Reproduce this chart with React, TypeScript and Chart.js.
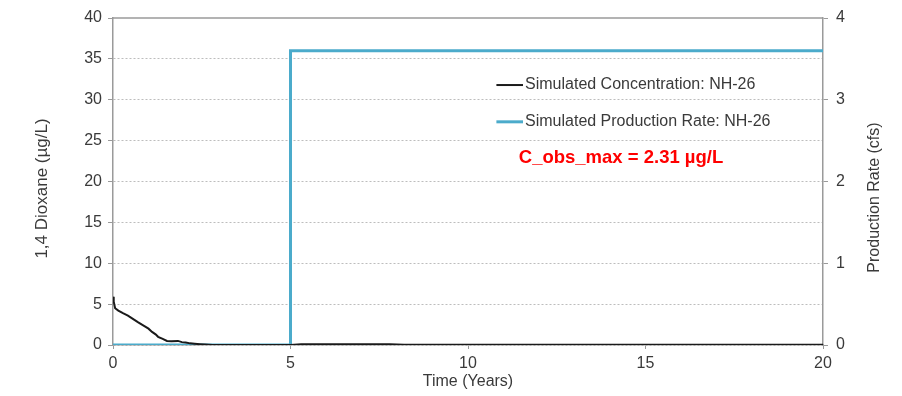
import React, { useEffect, useRef } from "react";
import { Chart, registerables } from "chart.js";

Chart.register(...registerables);

// Simulated 1,4-dioxane concentration (µg/L) over time (years)
const concTime = [0, 0.02, 0.06, 0.15, 0.28, 0.42, 0.56, 0.7, 0.85, 1.0, 1.1, 1.2, 1.27, 1.4, 1.52, 1.65, 1.83, 1.94, 2.05, 2.17, 2.3, 2.45, 2.6, 2.8, 5.0, 5.3, 6.5, 7.8, 8.2, 10, 20];
const concValue = [5.9, 5.3, 4.5, 4.2, 3.9, 3.6, 3.2, 2.8, 2.4, 2.0, 1.6, 1.3, 1.0, 0.75, 0.5, 0.45, 0.5, 0.35, 0.3, 0.2, 0.15, 0.1, 0.05, 0.0, 0.0, 0.08, 0.1, 0.1, 0.03, 0.02, 0.02];

// Simulated production rate (cfs) — step change at year 5
const rateTime = [0, 5, 5, 20];
const rateValue = [0, 0, 3.6, 3.6];

const xTicks = [0, 5, 10, 15, 20];
const concLabel = "Simulated Concentration: NH-26";
const rateLabel = "Simulated Production Rate: NH-26";
const noteText = "C_obs_max = 2.31 µg/L";
const leftTitle = "1,4 Dioxane (µg/L)";
const rightTitle = "Production Rate (cfs)";

const BLUE = "#4babcb";
const BLACK = "#1a1a1a";
const AXIS = "#9a9a9a";
const GRID = "#bdbdbd";
const TEXT = "#3a3a3a";
const FONT = "'Liberation Sans', Arial, sans-serif";

const framePlugin = {
  id: "frameAndLegend",
  beforeDatasetsDraw(chart: any) {
    const { ctx, chartArea } = chart;
    ctx.save();
    ctx.strokeStyle = AXIS;
    ctx.lineWidth = 1.5;
    ctx.beginPath();
    ctx.moveTo(chartArea.left, chartArea.top);
    ctx.lineTo(chartArea.right, chartArea.top);
    ctx.stroke();
    ctx.restore();
  },
  afterDraw(chart: any) {
    const { ctx, chartArea } = chart;
    const xs = chart.scales.x;
    const ys = chart.scales.y;
    const midY = (chartArea.top + chartArea.bottom) / 2;

    // vertical axis titles, both reading bottom to top
    ctx.save();
    ctx.fillStyle = TEXT;
    ctx.textAlign = "center";
    ctx.textBaseline = "middle";
    ctx.font = `17px ${FONT}`;
    ctx.translate(42, midY + 7);
    ctx.rotate(-Math.PI / 2);
    ctx.fillText(leftTitle, 0, 0);
    ctx.restore();

    ctx.save();
    ctx.fillStyle = TEXT;
    ctx.textAlign = "center";
    ctx.textBaseline = "middle";
    ctx.font = `16px ${FONT}`;
    ctx.translate(875, midY + 16);
    ctx.rotate(-Math.PI / 2);
    ctx.fillText(rightTitle, 0, 0);
    ctx.restore();

    // legend placed inside the plot area
    const lx0 = xs.getPixelForValue(10.8);
    const lx1 = xs.getPixelForValue(11.55);
    const row1 = ys.getPixelForValue(31.8);
    const row2 = ys.getPixelForValue(27.3);
    ctx.save();
    ctx.lineCap = "butt";
    ctx.strokeStyle = BLACK;
    ctx.lineWidth = 2;
    ctx.beginPath();
    ctx.moveTo(lx0, row1);
    ctx.lineTo(lx1, row1);
    ctx.stroke();
    ctx.strokeStyle = BLUE;
    ctx.lineWidth = 3;
    ctx.beginPath();
    ctx.moveTo(lx0, row2);
    ctx.lineTo(lx1, row2);
    ctx.stroke();
    ctx.fillStyle = TEXT;
    ctx.font = `16px ${FONT}`;
    ctx.textBaseline = "middle";
    ctx.textAlign = "left";
    ctx.fillText(concLabel, lx1 + 2, row1);
    ctx.fillText(rateLabel, lx1 + 2, row2);
    ctx.fillStyle = "#ff0000";
    ctx.font = `bold 18.5px ${FONT}`;
    ctx.fillText(noteText, xs.getPixelForValue(11.43), ys.getPixelForValue(22.9));
    ctx.restore();
  },
};

export default function App() {
  const ref = useRef<HTMLCanvasElement | null>(null);

  useEffect(() => {
    if (!ref.current) return;
    const chart = new Chart(ref.current, {
      type: "scatter",
      data: {
        datasets: [
          {
            label: concLabel,
            data: concTime.map((t, i) => ({ x: t, y: concValue[i] })),
            showLine: true,
            borderColor: BLACK,
            borderWidth: 2,
            pointRadius: 0,
            yAxisID: "y",
            order: 1,
          },
          {
            label: rateLabel,
            data: rateTime.map((t, i) => ({ x: t, y: rateValue[i] })),
            showLine: true,
            borderColor: BLUE,
            borderWidth: 3,
            pointRadius: 0,
            yAxisID: "y1",
            order: 2,
          },
        ],
      },
      options: {
        responsive: false,
        animation: false,
        events: [],
        layout: { padding: { top: 18, left: 0, right: 0, bottom: 0 } },
        plugins: { legend: { display: false }, tooltip: { enabled: false } },
        scales: {
          x: {
            type: "linear",
            min: 0,
            max: 20,
            afterBuildTicks: (s: any) => {
              s.ticks = xTicks.map((v) => ({ value: v }));
            },
            afterFit: (s: any) => {
              s.height = 51;
            },
            grid: { drawOnChartArea: false, drawTicks: true, tickLength: 4, color: AXIS },
            border: { color: AXIS, width: 1.5 },
            ticks: { color: TEXT, font: { family: FONT, size: 16 }, padding: 5, maxRotation: 0 },
            title: {
              display: true,
              text: "Time (Years)",
              color: TEXT,
              font: { family: FONT, size: 16 },
              padding: { top: 0, bottom: 5 },
            },
          },
          y: {
            position: "left",
            min: 0,
            max: 40,
            ticks: { stepSize: 5, color: TEXT, font: { family: FONT, size: 16 }, padding: 6 },
            afterFit: (s: any) => {
              s.width = 113;
            },
            grid: {
              color: (c: any) => (c.tick && c.tick.value === 40 ? "rgba(0,0,0,0)" : GRID),
              tickColor: AXIS,
              tickLength: 5,
              lineWidth: 1,
            },
            border: { color: AXIS, width: 1.5, dash: [2, 2] },
          },
          y1: {
            position: "right",
            min: 0,
            max: 4,
            ticks: { stepSize: 1, color: TEXT, font: { family: FONT, size: 16 }, padding: 8 },
            afterFit: (s: any) => {
              s.width = 79;
            },
            grid: { drawOnChartArea: false, tickColor: AXIS, tickLength: 5 },
            border: { color: AXIS, width: 1.5 },
          },
        },
      },
      plugins: [framePlugin],
    } as any);
    return () => chart.destroy();
  }, []);

  return (
    <div style={{ position: "fixed", left: 0, top: 0, width: 902, height: 396, background: "#fff" }}>
      <canvas ref={ref} width={902} height={396} />
    </div>
  );
}
